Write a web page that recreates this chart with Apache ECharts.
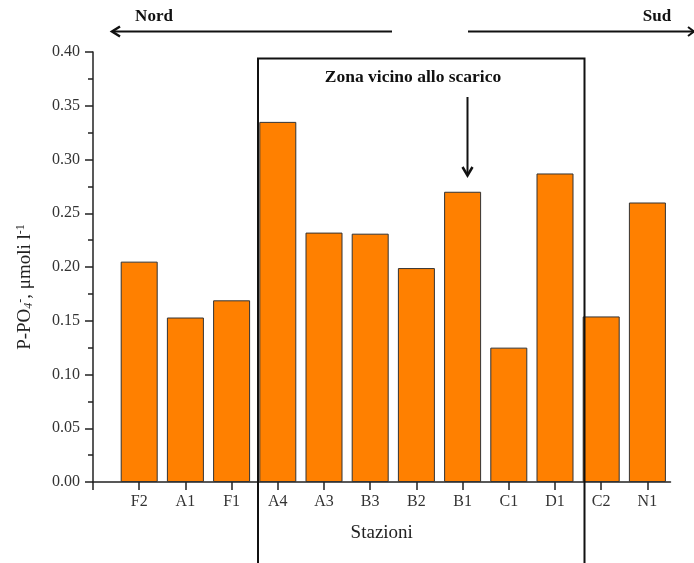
<!DOCTYPE html>
<html>
<head>
<meta charset="utf-8">
<script src="https://cdn.jsdelivr.net/npm/echarts@6/dist/echarts.min.js"></script>
<style>html,body{margin:0;padding:0;background:#fff}#c{width:694px;height:563px}</style>
</head>
<body>
<div id="c"></div>
<script>
const categories = ['F2','A1','F1','A4','A3','B3','B2','B1','C1','D1','C2','N1'];
const values = [0.205, 0.153, 0.169, 0.335, 0.232, 0.231, 0.199, 0.270, 0.125, 0.287, 0.154, 0.260];
const yTicks = [0, 0.05, 0.10, 0.15, 0.20, 0.25, 0.30, 0.35, 0.40];
const xPositions = categories.map((c, i) => i + 1);

const FONT = '"Liberation Serif", "Times New Roman", serif';
const chart = echarts.init(document.getElementById('c'), null, {renderer: 'canvas'});

const option = {
  animation: false,
  backgroundColor: '#fff',
  grid: {left: 93, right: 23.5, top: 52, bottom: 81, containLabel: false},
  xAxis: {
    type: 'value', min: 0, max: 12.5,
    name: 'Stazioni', nameLocation: 'middle', nameGap: 42,
    nameTextStyle: {fontFamily: FONT, fontSize: 19, color: '#222'},
    axisLine: {show: true, onZero: false, lineStyle: {color: '#222', width: 1.5}},
    axisTick: {show: true, inside: false, length: 8, lineStyle: {color: '#222', width: 1.5}, customValues: [0].concat(xPositions)},
    axisLabel: {customValues: xPositions, margin: 12, fontFamily: FONT, fontSize: 16, color: '#333',
      formatter: v => categories[Math.round(v) - 1] || ''},
    splitLine: {show: false}
  },
  yAxis: {
    type: 'value', min: 0, max: 0.4, interval: 0.05,
    name: '{a|P-PO}{s|4}{p|-}{a|, μmoli l}{p|-1}', nameLocation: 'middle', nameGap: 58, nameRotate: 90,
    nameTextStyle: {fontFamily: FONT, fontSize: 19, color: '#222', padding: [0, 40, 0, 0],
      rich: {
        a: {fontFamily: FONT, fontSize: 19, color: '#222'},
        s: {fontFamily: FONT, fontSize: 12, fontStyle: 'italic', color: '#222', verticalAlign: 'bottom', padding: [8, 0, 0, 0]},
        p: {fontFamily: FONT, fontSize: 12, color: '#222', verticalAlign: 'top', padding: [0, 0, 8, 0]}
      }},
    axisLine: {show: true, lineStyle: {color: '#222', width: 1.5}},
    axisTick: {show: true, length: 8, lineStyle: {color: '#222', width: 1.5}},
    minorTick: {show: true, splitNumber: 2, length: 5, lineStyle: {color: '#222', width: 1.5}},
    axisLabel: {margin: 13, fontFamily: FONT, fontSize: 16, color: '#333',
      customValues: yTicks, formatter: v => v.toFixed(2)},
    splitLine: {show: false}, minorSplitLine: {show: false}
  },
  series: [{
    type: 'bar',
    data: categories.map((c, i) => [xPositions[i], values[i]]),
    barWidth: 37,
    itemStyle: {color: '#FF8000', borderColor: '#333', borderWidth: 1}
  }],
  graphic: [
    {type: 'line', shape: {x1: 112, y1: 31.5, x2: 392, y2: 31.5}, style: {stroke: '#111', lineWidth: 2}, z: 100},
    {type: 'polyline', shape: {points: [[120, 26.5], [112, 31.5], [120, 36.5]]}, style: {stroke: '#111', lineWidth: 2.5, fill: null}, z: 100},
    {type: 'line', shape: {x1: 468, y1: 31.5, x2: 694, y2: 31.5}, style: {stroke: '#111', lineWidth: 2}, z: 100},
    {type: 'polyline', shape: {points: [[688, 27], [694, 31.5], [688, 36]]}, style: {stroke: '#111', lineWidth: 2, fill: null}, z: 100},
    {type: 'text', x: 154, y: 17, style: {text: 'Nord', fontFamily: FONT, fontWeight: 'bold', fontSize: 17, fill: '#111', align: 'center', verticalAlign: 'middle'}, z: 100},
    {type: 'text', x: 657, y: 17, style: {text: 'Sud', fontFamily: FONT, fontWeight: 'bold', fontSize: 17, fill: '#111', align: 'center', verticalAlign: 'middle'}, z: 100},
    {type: 'rect', shape: {x: 258, y: 58.5, width: 326.5, height: 520}, style: {stroke: '#111', lineWidth: 2, fill: null}, z: 100},
    {type: 'text', x: 413, y: 77, style: {text: 'Zona vicino allo scarico', fontFamily: FONT, fontWeight: 'bold', fontSize: 17.5, fill: '#111', align: 'center', verticalAlign: 'middle'}, z: 100},
    {type: 'line', shape: {x1: 467.5, y1: 97, x2: 467.5, y2: 175}, style: {stroke: '#111', lineWidth: 2}, z: 100},
    {type: 'polyline', shape: {points: [[462.5, 167], [467.5, 175.5], [472.5, 167]]}, style: {stroke: '#111', lineWidth: 2.5, fill: null}, z: 100}
  ]
};
chart.setOption(option);
</script>
</body>
</html>
